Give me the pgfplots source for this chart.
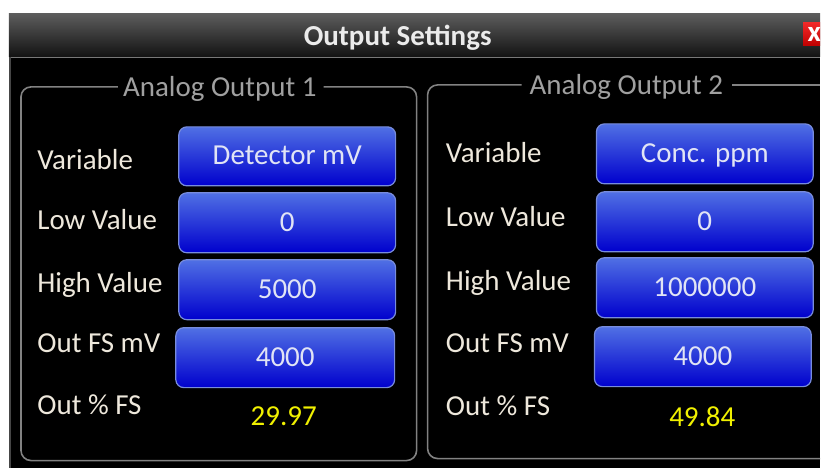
\documentclass[border=0pt]{standalone}
\usepackage{pgfplots}
\pgfplotsset{compat=1.18}
\usepackage{fontspec}
\setmainfont{Carlito}
\definecolor{lbl}{RGB}{238,232,220}
\definecolor{grp}{RGB}{160,160,160}
\definecolor{btntop}{RGB}{80,112,228}
\definecolor{btnbot}{RGB}{0,0,205}
\definecolor{btnedge}{RGB}{120,140,220}
\definecolor{btntxt}{RGB}{225,228,245}
\definecolor{val}{RGB}{240,240,0}
\definecolor{boxline}{RGB}{130,130,130}
\definecolor{bartop}{RGB}{92,92,92}
\definecolor{barbot}{RGB}{18,18,18}
\definecolor{sepline}{RGB}{120,120,120}
\definecolor{winedge}{RGB}{70,70,70}
\definecolor{ttl}{RGB}{235,235,235}
\definecolor{redtop}{RGB}{240,40,40}
\definecolor{redbot}{RGB}{190,0,0}
\newcommand\ui{\fontsize{14.5}{16}\selectfont}
\newcommand\btn[5]{%
  \shade[top color=btntop, bottom color=btnbot, rounded corners=4pt]
    (axis cs:#1,#2) rectangle (axis cs:#3,#4);
  \draw[btnedge, line width=0.6pt, rounded corners=4pt]
    (axis cs:#1,#2) rectangle (axis cs:#3,#4);
  \node[anchor=base, text=btntxt, font=\ui, inner sep=0pt] at (axis cs:{(#1+#3)/2},{#4-21}) {#5};}
\newcommand\lab[3]{\node[anchor=base west, text=lbl, font=\ui, inner sep=0pt] at (axis cs:#1,#2) {#3};}
\begin{document}
\begin{tikzpicture}
\begin{axis}[scale only axis, width=410.5pt, height=234pt,
  xmin=0, xmax=821, ymin=0, ymax=468, y dir=reverse,
  axis lines=none, ticks=none, clip=false]
\addplot[draw=none] coordinates {(0,0) (821,468)};
% background
\fill[white] (axis cs:0,0) rectangle (axis cs:821,468);
% window
\fill[black] (axis cs:9,14) rectangle (axis cs:821,468);
\shade[top color=bartop, bottom color=barbot]
  (axis cs:9,14) rectangle (axis cs:821,57);
\draw[sepline, line width=0.8pt] (axis cs:9,57.5) -- (axis cs:821,57.5);
\draw[winedge, line width=0.8pt] (axis cs:10,57) -- (axis cs:10,468);
\node[anchor=base, text=ttl, font=\bfseries\ui, inner sep=0pt] at (axis cs:398,46) {Output Settings};
% close button
\shade[top color=redtop, bottom color=redbot]
  (axis cs:804,23) rectangle (axis cs:821,46);
\node[anchor=base, text=white, font=\bfseries\ui, inner sep=0pt] at (axis cs:815,42) {x};
% group boxes
\draw[boxline, line width=0.8pt, rounded corners=5pt]
  (axis cs:118,87) -- (axis cs:21,87) -- (axis cs:21,461) -- (axis cs:417,461) -- (axis cs:417,87) -- (axis cs:324,87);
\node[anchor=base, text=grp, font=\ui, inner sep=0pt] at (axis cs:220,97) {Analog Output 1};
\draw[boxline, line width=0.8pt, rounded corners=5pt]
  (axis cs:522,85) -- (axis cs:428,85) -- (axis cs:428,459) -- (axis cs:821,459);
\draw[boxline, line width=0.8pt] (axis cs:733,85) -- (axis cs:821,85);
\node[anchor=base, text=grp, font=\ui, inner sep=0pt] at (axis cs:627,95) {Analog Output 2};
% group 1
\lab{37}{170}{Variable}
\lab{37}{230}{Low Value}
\lab{37}{293}{High Value}
\lab{37}{353}{Out FS mV}
\lab{37}{415}{Out \% FS}
\btn{179}{127}{396}{186}{Detector mV}
\btn{179}{193}{396}{253}{0}
\btn{179}{260}{396}{320}{5000}
\btn{176}{328}{395}{388}{4000}
\node[anchor=base, text=val, font=\ui, inner sep=0pt] at (axis cs:284,426) {29.97};
% group 2
\lab{446}{163}{Variable}
\lab{446}{227}{Low Value}
\lab{446}{291}{High Value}
\lab{446}{353}{Out FS mV}
\lab{446}{416}{Out \% FS}
\btn{597}{124}{814}{184}{Conc. ppm}
\btn{597}{192}{814}{252}{0}
\btn{597}{258}{814}{318}{1000000}
\btn{595}{327}{812}{387}{4000}
\node[anchor=base, text=val, font=\ui, inner sep=0pt] at (axis cs:703,427) {49.84};
\end{axis}
\end{tikzpicture}
\end{document}
